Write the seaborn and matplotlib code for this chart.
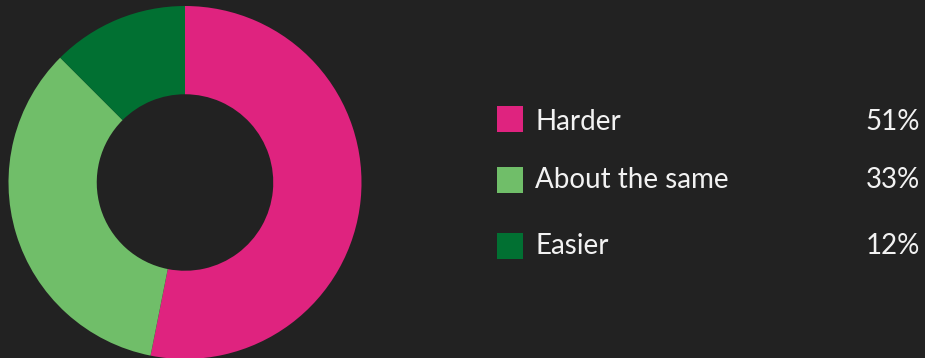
import matplotlib
matplotlib.use("Agg")
import matplotlib.pyplot as plt
from matplotlib.patches import Rectangle
import seaborn as sns

categories = ["Harder", "About the same", "Easier"]
values = [51, 33, 12]
labels = ["51%", "33%", "12%"]
colors = ["#DF237F", "#70BE69", "#017032"]

BG = "#222222"
TXT = "#F2F2F2"

sns.set_theme(style="white")
plt.rcParams["font.family"] = ["Lato", "DejaVu Sans"]

W, H = 925, 358
fig = plt.figure(figsize=(W / 100, H / 100), dpi=100, facecolor=BG)
ax = fig.add_axes([0, 0, 1, 1])
ax.set_facecolor(BG)

cx, cy, r = 185, H - 182.5, 176.5
ax.pie(values, colors=colors, startangle=90, counterclock=False,
       center=(cx, cy), radius=r,
       wedgeprops=dict(width=r * 0.5, linewidth=0))

sq_y = [119, 180, 245.7]
base_y = [129.5, 188.5, 253.5]
for cat, lab, col, sy, by in zip(categories, labels, colors, sq_y, base_y):
    ax.add_patch(Rectangle((497, H - sy - 13), 26, 26, facecolor=col, edgecolor="none"))
    ax.text(535, H - by, cat, color=TXT, fontsize=20, fontweight="normal",
            va="baseline", ha="left")
    ax.text(920, H - by, lab, color=TXT, fontsize=20, fontweight="normal",
            va="baseline", ha="right")

ax.set_xlim(0, W)
ax.set_ylim(0, H)
ax.set_aspect("equal")
ax.axis("off")

fig.savefig("out.png", dpi=100, facecolor=BG)
